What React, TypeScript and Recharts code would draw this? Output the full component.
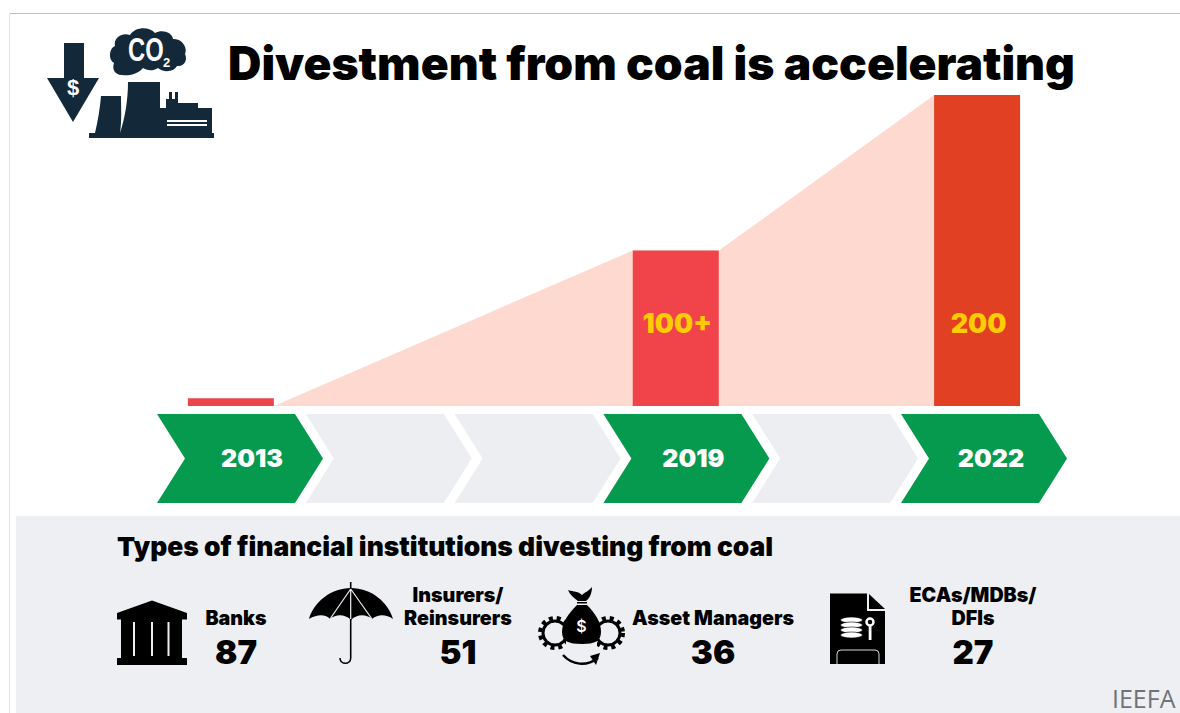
import React from 'react';
import { ComposedChart, Area, Bar, Cell, LabelList, Rectangle, XAxis, YAxis } from 'recharts';

const years = ['2013', '2019', '2022'];
const yearCounts = [5, 100, 200];
const yearLabels = ['', '100+', '200'];
const barColors = ['#EE444B', '#F0444A', '#E14022'];
// where each bar sits along the six timeline steps
const barSlots = [0, 2.99, 5.015];
const timelineSteps = [0, 1, 2, 3, 4, 5];
const timelineLabels = ['2013', '', '', '2019', '', '2022'];
const wedgeStart = [0, 100];
const wedgeEnd = [100, 200];

const institutionNames = [['Banks'], ['Insurers/', 'Reinsurers'], ['Asset Managers'], ['ECAs/MDBs/', 'DFIs']];
const institutionCounts = [87, 51, 36, 27];

const BAR_WIDTH = 86;
const SLOT_PX = 148.8;
const halfBar = BAR_WIDTH / 2 / SLOT_PX;

const rows = [
  { slot: barSlots[0], count: yearCounts[0], label: yearLabels[0], year: years[0] },
  { slot: barSlots[0] + halfBar, wedge: wedgeStart[0] },
  { slot: barSlots[1] - halfBar, wedge: wedgeEnd[0] },
  { slot: barSlots[1], count: yearCounts[1], label: yearLabels[1], year: years[1] },
  { slot: barSlots[1] + halfBar, wedge: wedgeStart[1] },
  { slot: barSlots[2] - halfBar, wedge: wedgeEnd[1] },
  { slot: barSlots[2], count: yearCounts[2], label: yearLabels[2], year: years[2] },
];

const font = 'Inter, sans-serif';
const navy = '#13293A';
const panel = '#EEEFF3';

const ChevronTick = (props: any) => {
  const { x, y, payload } = props;
  const label = timelineLabels[payload.value];
  const cx = x + 9;
  const left = cx - 83;
  const right = cx + 83;
  const h = 89;
  const arm = 28;
  const pts = [
    [left, y], [right - arm, y], [right, y + h / 2], [right - arm, y + h], [left, y + h], [left + arm, y + h / 2],
  ].map((p) => p.join(',')).join(' ');
  return (
    <g>
      <polygon points={pts} fill={label ? '#069A4F' : '#EDEEF2'} />
      {label && (
        <text x={cx + (payload.value === 0 ? 12 : 7)} y={y + 44} dy="0.36em" textAnchor="middle" fontFamily={font} fontWeight={900} fontSize={25} fill="#fff">
          {label}
        </text>
      )}
    </g>
  );
};

// the bars are wider than the gap between table rows, so the width is set here
const WideBar = (props: any) => {
  const { x, width } = props;
  return <Rectangle {...props} x={x + width / 2 - BAR_WIDTH / 2} width={BAR_WIDTH} />;
};

const BarValue = (props: any) => {
  const { x, width, value } = props;
  if (!value) return null;
  return (
    <text x={x + width / 2 + 1.5} y={323} dy="0.36em" textAnchor="middle" fontFamily={font} fontWeight={900} fontSize={27} fill="#FFCB05">
      {value}
    </text>
  );
};

const HeaderIcon = () => (
  <g fill={navy}>
    <path d="M64 43H84V78H99L73 122L47 78H64Z" />
    <text x={73} y={95} textAnchor="middle" fontFamily="'Liberation Sans', sans-serif" fontWeight={700} fontSize={22} fill="#fff">$</text>
    <path d="M122 75C114 75 112 68 114 63C108 60 109 48 115 46C113 38 122 32 130 35C136 26 150 27 155 33C162 29 172 32 173 39C182 38 188 48 185 54C188 60 184 67 177 66C173 73 162 72 158 68C152 72 146 70 143 68C137 75 127 76 122 75Z" />
    <g transform="translate(128 61) scale(0.72 1)">
      <text x={0} y={0} fontFamily="'Liberation Sans', sans-serif" fontWeight={700} fontSize={33} fill="#fff">CO</text>
    </g>
    <text x={163} y={67} fontFamily="'Liberation Sans', sans-serif" fontWeight={700} fontSize={13} fill="#fff">2</text>
    <path d="M89 138V133H95C98 120 100 108 101 96H121C121 108 122 120 120 133C125 118 128 100 128 82H160V108H166V99H169V92H172V99H175V92H178V103H198V108H212V133H214V138Z" />
    <rect x={167} y={120} width={40} height={2} fill="#fff" />
    <rect x={167} y={124} width={40} height={2} fill="#fff" />
  </g>
);

const BankIcon = () => (
  <g fill="#000">
    <path d="M152 600.5L187 613V619.5H117V613Z" />
    <rect x={121} y={619} width={61} height={39} />
    <rect x={133} y={622} width={2} height={34} fill={panel} />
    <rect x={151} y={622} width={2} height={34} fill={panel} />
    <rect x={167.5} y={622} width={2} height={34} fill={panel} />
    <rect x={117} y={658} width={70} height={7} />
  </g>
);

const UmbrellaIcon = () => (
  <g>
    <path d="M351 588C331 588 314 602 309 619C317 614 326 614 330 619C336 614 345 614 351 620C357 614 366 614 372 619C378 614 386 614 393 619C388 602 371 588 351 588Z" fill="#000" />
    <path d="M350.7 589L330 619M350.7 589V619M350.7 589L372 619" stroke={panel} strokeWidth={1.2} fill="none" />
    <path d="M350.7 582V588M350.7 619V658C350.7 665 340 665 340 658" stroke="#000" strokeWidth={1.6} fill="none" />
  </g>
);

const MoneyIcon = () => (
  <g>
    <circle cx={555} cy={633} r={12} fill="none" stroke="#000" strokeWidth={3} />
    <circle cx={555} cy={633} r={15} fill="none" stroke="#000" strokeWidth={4} strokeDasharray="4 4" />
    <circle cx={608} cy={633} r={12} fill="none" stroke="#000" strokeWidth={3} />
    <circle cx={608} cy={633} r={15} fill="none" stroke="#000" strokeWidth={4} strokeDasharray="4 4" />
    <rect x={566} y={618} width={31} height={30} fill={panel} />
    <path d="M568 590C574 592 578 591 582 595C585 592 589 591 592 587C592 594 589 599 586 601H578C574 598 570 595 568 590Z" fill="#000" />
    <path d="M577 605H587C595 613 601 622 601 632C601 641 595 644 582 644C568 644 562 641 562 632C562 622 569 613 577 605Z" fill="#000" />
    <rect x={577} y={602} width={10} height={1.5} fill="#000" />
    <text x={581.5} y={632} textAnchor="middle" fontFamily={font} fontWeight={600} fontSize={16} fill="#fff">$</text>
    <path d="M563 655C572 665 586 667 598 658" stroke="#000" strokeWidth={2.5} fill="none" />
    <path d="M590 656L600 653L596 665Z" fill="#000" />
  </g>
);

const DocIcon = () => (
  <g>
    <path d="M830 593.5H867V611H885V664H830Z" fill="#000" />
    <path d="M869 594L885 609H869Z" fill="#000" />
    <path d="M837 664V654Q837 650 841 650H875Q879 650 879 654V664" fill="none" stroke={panel} strokeWidth={0.9} />
    {[620, 625, 630, 635].map((cy) => (
      <ellipse key={cy} cx={851.5} cy={cy} rx={11} ry={3} fill="#fff" stroke="#000" strokeWidth={0.6} />
    ))}
    <circle cx={870} cy={622} r={3.5} fill="none" stroke="#fff" strokeWidth={2.5} />
    <rect x={868.7} y={625} width={2.8} height={15} fill="#fff" />
  </g>
);

const nameCenters = [236, 458, 713, 973];

const App = () => (
  <div style={{ position: 'absolute', left: 0, top: 0, width: 1180, height: 713, overflow: 'hidden', background: '#fff' }}>
    <svg width={1180} height={713} style={{ position: 'absolute', left: 0, top: 0 }}>
      <rect x={9} y={13} width={1171} height={1} fill="#BDBDBD" />
      <rect x={9} y={13} width={1} height={700} fill="#E4E4E4" />
      <rect x={16} y={516} width={1164} height={197} fill={panel} />
      <HeaderIcon />
      <text x={228} y={80} fontFamily={font} fontWeight={900} fontSize={46.2} fill="#000">Divestment from coal is accelerating</text>
      <text x={117} y={556} fontFamily={font} fontWeight={900} fontSize={26.4} fill="#000">Types of financial institutions divesting from coal</text>
      <BankIcon />
      <UmbrellaIcon />
      <MoneyIcon />
      <DocIcon />
      {institutionNames.map((lines, i) => (
        <g key={i}>
          {lines.map((line, j) => (
            <text key={line} x={nameCenters[i]} y={(lines.length > 1 ? 595 + j * 23 : 618)} dy="0.36em" textAnchor="middle" fontFamily={font} fontWeight={900} fontSize={19.7} fill="#000">
              {line}
            </text>
          ))}
          <text x={nameCenters[i]} y={652} dy="0.36em" textAnchor="middle" fontFamily={font} fontWeight={900} fontSize={33} fill="#000">
            {institutionCounts[i]}
          </text>
        </g>
      ))}
      <text x={1112} y={708} fontFamily="'Open Sans', sans-serif" fontSize={25} fill="#6F7378">IEEFA</text>
    </svg>
    <div style={{ position: 'absolute', left: 0, top: 0 }}>
      <ComposedChart width={1180} height={713} data={rows} margin={{ top: 95, right: 130.6, bottom: 0, left: 156.6 }}>
        <XAxis
          dataKey="slot"
          type="number"
          domain={[-0.5, 5.5]}
          ticks={timelineSteps}
          interval={0}
          height={307}
          axisLine={false}
          tickLine={false}
          tickSize={0}
          tickMargin={8}
          tick={<ChevronTick />}
        />
        <YAxis hide domain={[0, 200]} />
        <Area dataKey="wedge" type="linear" connectNulls fill="#FDD9CF" fillOpacity={1} stroke="none" dot={false} activeDot={false} isAnimationActive={false} />
        <Bar dataKey="count" barSize={BAR_WIDTH} shape={<WideBar />} isAnimationActive={false}>
          {rows.map((r, i) => (
            <Cell key={i} fill={r.year ? barColors[years.indexOf(r.year)] : 'none'} />
          ))}
          <LabelList dataKey="label" content={<BarValue />} />
        </Bar>
      </ComposedChart>
    </div>
  </div>
);

export default App;
